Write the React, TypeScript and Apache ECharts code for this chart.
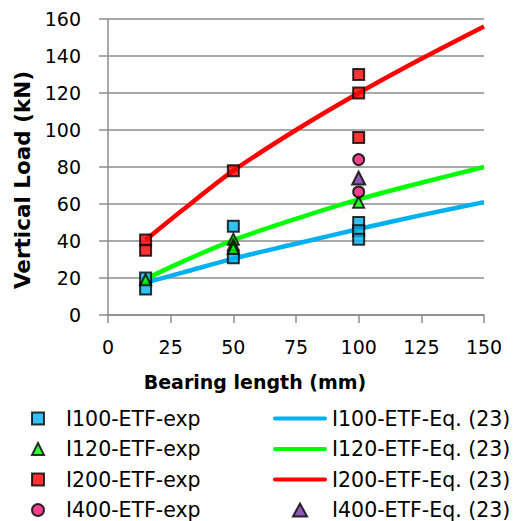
import React, { useEffect, useRef } from "react";
import * as echarts from "echarts";

const xTicks = [0, 25, 50, 75, 100, 125, 150];
const curveX = [15, 30, 50, 75, 100, 125, 150];
const i100Eq = [17.5, 23, 30.5, 38.5, 46.5, 54, 61];
const i120Eq = [19.5, 29, 40.5, 52, 62.5, 71.5, 80];
const i200Eq = [40.5, 57, 78, 100, 120, 138.5, 156];

const i100Exp: [number, number][] = [[15, 20], [15, 14], [50, 48], [50, 31], [100, 50], [100, 45.5], [100, 41]];
const i120Exp: [number, number][] = [[15, 19], [50, 41], [50, 38], [50, 36], [100, 61]];
const i200Exp: [number, number][] = [[15, 40.5], [15, 35], [50, 78], [100, 130], [100, 120], [100, 96]];
const i400Exp: [number, number][] = [[100, 84], [100, 66.5]];
const i400Eq: [number, number][] = [[100, 74]];

const FONT = "DejaVu Sans";
const LINE_ICON = "path://M2,0L52,0A2,2,0,0,1,52,4L2,4A2,2,0,0,1,2,0Z";
const TRI_ICON = "path://M6,0L12,11L0,11Z";

export default function App() {
  const ref = useRef<HTMLDivElement>(null);
  useEffect(() => {
    const chart = echarts.init(ref.current!, null, { renderer: "svg" });
    const zip = (ys: number[]) => curveX.map((x, i) => [x, ys[i]]);
    const sq = { symbol: "rect", symbolSize: 11 };
    const legendText = { fontFamily: FONT, fontSize: 20.5, color: "#000", lineHeight: 20 };
    chart.setOption({
      animation: false,
      grid: { left: 108, right: 30, top: 19, bottom: 206 },
      xAxis: {
        type: "value", min: 0, max: 150, interval: 25,
        name: "Bearing length (mm)", nameLocation: "middle", nameGap: 57,
        nameTextStyle: { fontFamily: FONT, fontSize: 19, fontWeight: "bold", color: "#000", padding: [0, 82, 0, 0] },
        axisLine: { lineStyle: { color: "#8c8c8c", width: 1.5 } },
        axisTick: { show: true, inside: false, length: 8, lineStyle: { color: "#8c8c8c", width: 1.5 } },
        axisLabel: { fontFamily: FONT, fontSize: 19, color: "#000", margin: 22 },
        splitLine: { show: false },
      },
      yAxis: {
        type: "value", min: 0, max: 160, interval: 20,
        name: "Vertical Load (kN)", nameLocation: "middle", nameGap: 57,
        nameTextStyle: { fontFamily: FONT, fontSize: 21.5, fontWeight: "bold", color: "#000", padding: [0, 26, 0, 0] },
        axisLine: { show: true, lineStyle: { color: "#8c8c8c", width: 1.5 } },
        axisTick: { show: true, inside: false, length: 9, lineStyle: { color: "#8c8c8c", width: 1.5 } },
        axisLabel: { fontFamily: FONT, fontSize: 19, color: "#000", margin: 27 },
        splitLine: { show: true, lineStyle: { color: "#8c8c8c", width: 1.5 } },
      },
      legend: [
        {
          orient: "vertical", left: 31, top: 408, padding: 0, itemWidth: 12, itemHeight: 12, itemGap: 9.5,
          data: ["I100-ETF-exp", "I120-ETF-exp", "I200-ETF-exp", "I400-ETF-exp"],
          textStyle: { ...legendText, padding: [0, 0, 0, 17] },
        },
        {
          orient: "vertical", left: 273, top: 408, padding: 0, itemWidth: 54, itemHeight: 13, itemGap: 9.5,
          symbolKeepAspect: true,
          data: [
            { name: "I100-ETF-Eq. (23)", icon: LINE_ICON },
            { name: "I120-ETF-Eq. (23)", icon: LINE_ICON },
            { name: "I200-ETF-Eq. (23)", icon: LINE_ICON },
            { name: "I400-ETF-Eq. (23)", icon: TRI_ICON },
          ],
          textStyle: legendText,
        },
      ],
      series: [
        { name: "I100-ETF-Eq. (23)", type: "line", data: zip(i100Eq), smooth: 0.3, symbol: "none", lineStyle: { color: "#00b0f0", width: 4.5 }, itemStyle: { color: "#00b0f0" }, z: 1 },
        { name: "I120-ETF-Eq. (23)", type: "line", data: zip(i120Eq), smooth: 0.3, symbol: "none", lineStyle: { color: "#00ff00", width: 4.5 }, itemStyle: { color: "#00ff00" }, z: 1 },
        { name: "I200-ETF-Eq. (23)", type: "line", data: zip(i200Eq), smooth: 0.3, symbol: "none", lineStyle: { color: "#ff0000", width: 4.5 }, itemStyle: { color: "#ff0000" }, z: 1 },
        { name: "I100-ETF-exp", type: "scatter", data: i100Exp, ...sq, itemStyle: { color: "#00b0f0", borderColor: "#000", borderWidth: 2 }, z: 3 },
        { name: "I120-ETF-exp", type: "scatter", data: i120Exp, symbol: "triangle", symbolSize: 11, itemStyle: { color: "#00ff00", borderColor: "#000", borderWidth: 2 }, z: 3 },
        { name: "I200-ETF-exp", type: "scatter", data: i200Exp, ...sq, itemStyle: { color: "#ff0000", borderColor: "#000", borderWidth: 2 }, z: 3 },
        { name: "I400-ETF-exp", type: "scatter", data: i400Exp, symbol: "circle", symbolSize: 11, itemStyle: { color: "#f0146e", borderColor: "#000", borderWidth: 2 }, z: 3 },
        { name: "I400-ETF-Eq. (23)", type: "scatter", data: i400Eq, symbol: "triangle", symbolSize: 13, itemStyle: { color: "#7030a0", borderColor: "#000", borderWidth: 2 }, z: 3 },
      ],
    });
    return () => chart.dispose();
  }, []);
  return <div ref={ref} style={{ width: 514, height: 521, position: "absolute", left: 0, top: 0 }} />;
}
